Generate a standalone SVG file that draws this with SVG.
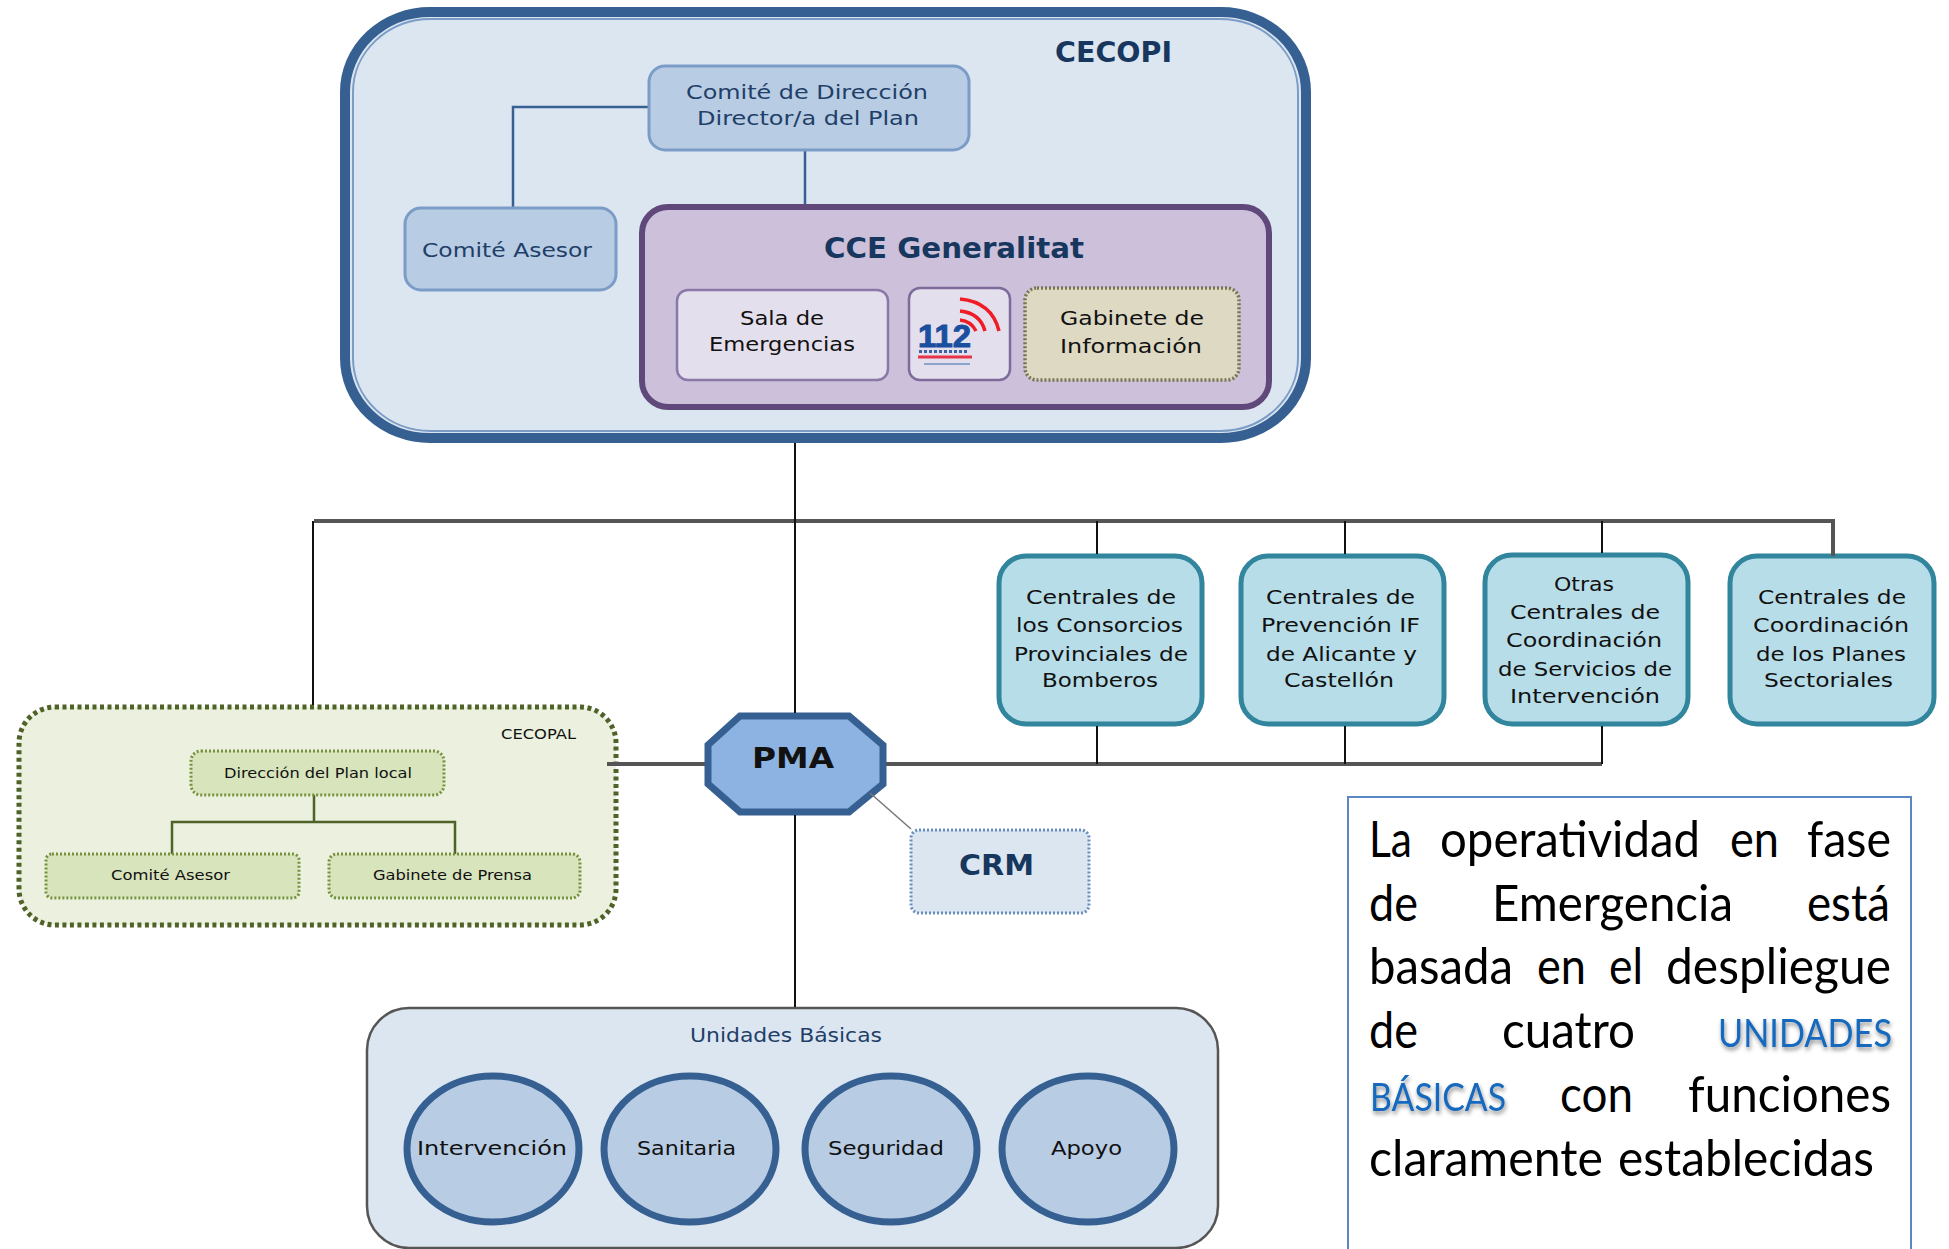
<svg xmlns="http://www.w3.org/2000/svg" width="1949" height="1249" viewBox="0 0 1949 1249">
<style>
text{font-family:"DejaVu Sans","Liberation Sans",sans-serif;font-size:20px;fill:#111;}
.navy{fill:#1f3f68;}
.head{font-weight:700;font-size:29px;fill:#17375e;}
.small{font-size:14px;}
.para{font-family:"Lato","Open Sans",sans-serif;font-size:50px;fill:#000;}
.blue{font-size:38px;fill:#1469bd;filter:url(#shadow);}
.bluebox{fill:#b8cce4;stroke:#7a9cc6;stroke-width:3;}
.central{fill:#b7dde8;stroke:#31859c;stroke-width:5;}
.gi{fill:#d8e4bc;stroke:#76923c;stroke-width:3;stroke-dasharray:2 2;}
.unit{fill:#b8cce4;stroke:#366092;stroke-width:7;}
.ln{fill:none;stroke:#111;stroke-width:2;}
.gl{fill:none;stroke:#555;stroke-width:4;}
.bl{fill:none;stroke:#366092;stroke-width:2.5;}
.ol{fill:none;stroke:#4f6228;stroke-width:2.5;}
</style>
<defs>
<filter id="shadow" x="-10%" y="-20%" width="120%" height="150%"><feDropShadow dx="1" dy="3" stdDeviation="2" flood-color="#000" flood-opacity="0.45"/></filter>
</defs>
<rect width="1949" height="1249" fill="#fff"/>

<g id="cecopi">
<rect x="345" y="12" width="961" height="426" rx="85" ry="80" fill="#dce6f1" stroke="#366092" stroke-width="10"/>
<rect x="353" y="19" width="945" height="412" rx="78" ry="73" fill="none" stroke="#7a9cc6" stroke-width="2"/>
<text class="head" x="1055" y="62" textLength="117" lengthAdjust="spacingAndGlyphs">CECOPI</text>
</g>
<g id="cecopi-connectors">
<path class="bl" d="M648 107H513V207M805 150V204"/>
</g>
<g id="comite-direccion">
<rect class="bluebox" x="649" y="66" width="320" height="84" rx="16"/>
<text class="navy" x="686" y="99" textLength="242" lengthAdjust="spacingAndGlyphs">Comité de Dirección</text>
<text class="navy" x="697" y="125" textLength="222" lengthAdjust="spacingAndGlyphs">Director/a del Plan</text>
</g>
<g id="comite-asesor">
<rect class="bluebox" x="405" y="208" width="211" height="82" rx="16"/>
<text class="navy" x="422" y="257" textLength="170" lengthAdjust="spacingAndGlyphs">Comité Asesor</text>
</g>
<g id="cce">
<rect x="642" y="207" width="627" height="200" rx="26" fill="#ccc0da" stroke="#60497a" stroke-width="6"/>
<text class="head" x="824" y="258" textLength="260" lengthAdjust="spacingAndGlyphs">CCE Generalitat</text>
</g>
<g id="sala">
<rect x="677" y="290" width="211" height="90" rx="11" fill="#e4dfec" stroke="#8a78a8" stroke-width="2.5"/>
<text x="740" y="325" textLength="84" lengthAdjust="spacingAndGlyphs">Sala de</text>
<text x="709" y="351" textLength="146" lengthAdjust="spacingAndGlyphs">Emergencias</text>
</g>
<g id="logo-112">
<rect x="909" y="288" width="101" height="92" rx="11" fill="#e4dfec" stroke="#7f6a9c" stroke-width="2.5"/>
<text x="918" y="347" textLength="53" lengthAdjust="spacingAndGlyphs" style="font-family:'Liberation Sans',sans-serif;font-weight:700;font-size:32px;fill:#1a4fa0;stroke:#1a4fa0;stroke-width:1">112</text>
<path d="M960 299Q992 302 999 331M960 311Q980 313 985 331M960 320Q971 321 976 331" fill="none" stroke="#ee1c25" stroke-width="3.5"/>
<path d="M919 351.500H967" stroke="#3a62a8" stroke-width="3" stroke-dasharray="3 2"/>
<path d="M918 357H972" stroke="#e8344a" stroke-width="3"/>
<path d="M924 364H970" stroke="#8aa4cc" stroke-width="2"/>
</g>
<g id="gabinete-info">
<rect x="1025" y="288" width="214" height="92" rx="12" fill="#ddd9c3" stroke="#77774f" stroke-width="3.500" stroke-dasharray="2 2"/>
<text x="1060" y="325" textLength="144" lengthAdjust="spacingAndGlyphs">Gabinete de</text>
<text x="1060" y="353" textLength="142" lengthAdjust="spacingAndGlyphs">Información</text>
</g>

<g id="cecopal">
<rect x="19" y="707" width="597" height="218" rx="36" fill="#ebf1de" stroke="#4f6228" stroke-width="5" stroke-dasharray="4 3.500"/>
<text class="small" x="501" y="739" textLength="75" lengthAdjust="spacingAndGlyphs">CECOPAL</text>
</g>
<g id="cecopal-connectors">
<path class="ol" d="M314 795V822M172 854V822H455V854"/>
</g>
<g id="direccion-local">
<rect class="gi" x="191" y="751" width="253" height="44" rx="10"/>
<text class="small" x="224" y="778" textLength="188" lengthAdjust="spacingAndGlyphs">Dirección del Plan local</text>
</g>
<g id="comite-asesor-local">
<rect class="gi" x="46" y="854" width="253" height="44" rx="6"/>
<text class="small" x="111" y="880" textLength="119" lengthAdjust="spacingAndGlyphs">Comité Asesor</text>
</g>
<g id="gabinete-prensa">
<rect class="gi" x="329" y="854" width="251" height="44" rx="8"/>
<text class="small" x="373" y="880" textLength="159" lengthAdjust="spacingAndGlyphs">Gabinete de Prensa</text>
</g>

<g id="pma">
<polygon points="740,716 849,716 883,745 883,784 849,812 740,812 708,784 708,745" fill="#8db3e2" stroke="#366092" stroke-width="7"/>
<text x="752" y="768" textLength="82" lengthAdjust="spacingAndGlyphs" style="font-weight:700;font-size:28px">PMA</text>
</g>
<g id="crm">
<rect x="911" y="830" width="178" height="83" rx="8" fill="#dce6f1" stroke="#6a8fbf" stroke-width="3" stroke-dasharray="2 2"/>
<text class="head" x="959" y="875" textLength="75" lengthAdjust="spacingAndGlyphs">CRM</text>
</g>

<g id="central-1">
<rect class="central" x="999" y="556" width="203" height="168" rx="27"/>
<text x="1026" y="604" textLength="150" lengthAdjust="spacingAndGlyphs">Centrales de</text>
<text x="1016" y="632" textLength="167" lengthAdjust="spacingAndGlyphs">los Consorcios</text>
<text x="1014" y="661" textLength="174" lengthAdjust="spacingAndGlyphs">Provinciales de</text>
<text x="1042" y="687" textLength="116" lengthAdjust="spacingAndGlyphs">Bomberos</text>
</g>
<g id="central-2">
<rect class="central" x="1241" y="556" width="203" height="168" rx="27"/>
<text x="1266" y="604" textLength="149" lengthAdjust="spacingAndGlyphs">Centrales de</text>
<text x="1261" y="632" textLength="159" lengthAdjust="spacingAndGlyphs">Prevención IF</text>
<text x="1266" y="661" textLength="151" lengthAdjust="spacingAndGlyphs">de Alicante y</text>
<text x="1284" y="687" textLength="110" lengthAdjust="spacingAndGlyphs">Castellón</text>
</g>
<g id="central-3">
<rect class="central" x="1485" y="555" width="203" height="169" rx="27"/>
<text x="1554" y="591" textLength="60" lengthAdjust="spacingAndGlyphs">Otras</text>
<text x="1510" y="619" textLength="150" lengthAdjust="spacingAndGlyphs">Centrales de</text>
<text x="1506" y="647" textLength="156" lengthAdjust="spacingAndGlyphs">Coordinación</text>
<text x="1498" y="676" textLength="174" lengthAdjust="spacingAndGlyphs">de Servicios de</text>
<text x="1510" y="703" textLength="150" lengthAdjust="spacingAndGlyphs">Intervención</text>
</g>
<g id="central-4">
<rect class="central" x="1730" y="556" width="204" height="168" rx="27"/>
<text x="1758" y="604" textLength="148" lengthAdjust="spacingAndGlyphs">Centrales de</text>
<text x="1753" y="632" textLength="156" lengthAdjust="spacingAndGlyphs">Coordinación</text>
<text x="1756" y="661" textLength="150" lengthAdjust="spacingAndGlyphs">de los Planes</text>
<text x="1764" y="687" textLength="129" lengthAdjust="spacingAndGlyphs">Sectoriales</text>
</g>

<g id="unidades">
<rect x="367" y="1008" width="851" height="240" rx="42" fill="#dce6f1" stroke="#555" stroke-width="2.500"/>
<text class="navy" x="690" y="1042" textLength="192" lengthAdjust="spacingAndGlyphs">Unidades Básicas</text>
</g>
<g id="intervencion">
<ellipse class="unit" cx="493" cy="1149" rx="86" ry="73"/>
<text x="417" y="1155" textLength="150" lengthAdjust="spacingAndGlyphs">Intervención</text>
</g>
<g id="sanitaria">
<ellipse class="unit" cx="690" cy="1149" rx="86" ry="73"/>
<text x="637" y="1155" textLength="99" lengthAdjust="spacingAndGlyphs">Sanitaria</text>
</g>
<g id="seguridad">
<ellipse class="unit" cx="891" cy="1149" rx="86" ry="73"/>
<text x="828" y="1155" textLength="116" lengthAdjust="spacingAndGlyphs">Seguridad</text>
</g>
<g id="apoyo">
<ellipse class="unit" cx="1088" cy="1149" rx="86" ry="73"/>
<text x="1051" y="1155" textLength="71" lengthAdjust="spacingAndGlyphs">Apoyo</text>
</g>

<g id="nota">
<path d="M1348 1249V797H1911V1249" fill="none" stroke="#5b87c4" stroke-width="2"/>
<text class="para" x="1369" y="857" textLength="43" lengthAdjust="spacingAndGlyphs">La</text>
<text class="para" x="1440" y="857" textLength="260" lengthAdjust="spacingAndGlyphs">operatividad</text>
<text class="para" x="1730" y="857" textLength="49" lengthAdjust="spacingAndGlyphs">en</text>
<text class="para" x="1807" y="857" textLength="84" lengthAdjust="spacingAndGlyphs">fase</text>
<text class="para" x="1369" y="921" textLength="49" lengthAdjust="spacingAndGlyphs">de</text>
<text class="para" x="1492" y="921" textLength="241" lengthAdjust="spacingAndGlyphs">Emergencia</text>
<text class="para" x="1807" y="921" textLength="83" lengthAdjust="spacingAndGlyphs">está</text>
<text class="para" x="1369" y="984" textLength="144" lengthAdjust="spacingAndGlyphs">basada</text>
<text class="para" x="1537" y="984" textLength="49" lengthAdjust="spacingAndGlyphs">en</text>
<text class="para" x="1609" y="984" textLength="34" lengthAdjust="spacingAndGlyphs">el</text>
<text class="para" x="1666" y="984" textLength="225" lengthAdjust="spacingAndGlyphs">despliegue</text>
<text class="para" x="1369" y="1048" textLength="49" lengthAdjust="spacingAndGlyphs">de</text>
<text class="para" x="1502" y="1048" textLength="133" lengthAdjust="spacingAndGlyphs">cuatro</text>
<text class="para blue" x="1718" y="1047" textLength="174" lengthAdjust="spacingAndGlyphs">UNIDADES</text>
<text class="para blue" x="1370" y="1111" textLength="136" lengthAdjust="spacingAndGlyphs">BÁSICAS</text>
<text class="para" x="1560" y="1112" textLength="73" lengthAdjust="spacingAndGlyphs">con</text>
<text class="para" x="1688" y="1112" textLength="203" lengthAdjust="spacingAndGlyphs">funciones</text>
<text class="para" x="1369" y="1176" textLength="234" lengthAdjust="spacingAndGlyphs">claramente</text>
<text class="para" x="1618" y="1176" textLength="256" lengthAdjust="spacingAndGlyphs">establecidas</text>
</g>

<g id="connectors">
<path class="gl" d="M314 521H1833V556"/>
<path class="ln" d="M795 443V713M795 815V1007M313 521V705M1097 521V554M1345 521V554M1602 521V553"/>
<path class="gl" d="M607 764H705"/>
<path class="gl" d="M886 764H1602"/>
<path class="ln" d="M1097 726V764M1345 726V764M1602 726V764"/>
<path d="M870 793L911 829" fill="none" stroke="#777" stroke-width="1.5"/>
</g>
</svg>
